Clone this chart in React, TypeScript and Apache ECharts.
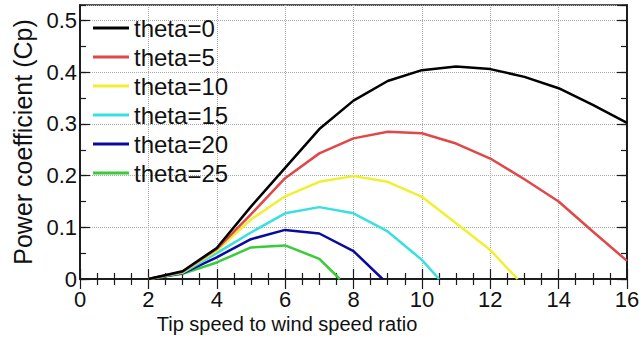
import React, { useEffect, useRef } from "react";
import * as echarts from "echarts";

const seriesNames = ["theta=0", "theta=5", "theta=10", "theta=15", "theta=20", "theta=25"];
const seriesColors = ["#000000", "#e04848", "#f0f030", "#38e0e0", "#0a0aa0", "#38cc38"];

const theta0X = [2, 3, 4, 5, 6, 7, 8, 9, 10, 11, 12, 13, 14, 15, 16];
const theta0Y = [0, 0.015, 0.06, 0.14, 0.215, 0.29, 0.345, 0.383, 0.404, 0.411, 0.406, 0.391, 0.369, 0.337, 0.302];
const theta5X = [2, 3, 4, 5, 6, 7, 8, 9, 10, 11, 12, 13, 14, 15, 16];
const theta5Y = [0, 0.014, 0.058, 0.125, 0.195, 0.243, 0.272, 0.285, 0.282, 0.262, 0.233, 0.193, 0.15, 0.092, 0.035];
const theta10X = [2, 3, 4, 5, 6, 7, 8, 9, 10, 11, 12, 12.8];
const theta10Y = [0, 0.013, 0.055, 0.115, 0.16, 0.188, 0.199, 0.188, 0.159, 0.108, 0.056, 0];
const theta15X = [2, 3, 4, 5, 6, 7, 8, 9, 10, 10.5];
const theta15Y = [0, 0.012, 0.05, 0.09, 0.127, 0.139, 0.127, 0.092, 0.037, 0];
const theta20X = [2, 3, 4, 5, 6, 7, 8, 8.85];
const theta20Y = [0, 0.011, 0.042, 0.077, 0.095, 0.088, 0.054, 0];
const theta25X = [2, 3, 4, 5, 6, 7, 7.6];
const theta25Y = [0, 0.01, 0.032, 0.061, 0.065, 0.039, 0];

const allX = [theta0X, theta5X, theta10X, theta15X, theta20X, theta25X];
const allY = [theta0Y, theta5Y, theta10Y, theta15Y, theta20Y, theta25Y];

const xTitle = "Tip speed to wind speed ratio";
const yTitle = "Power coefficient (Cp)";

const FONT = "'Liberation Sans', Arial, sans-serif";
const AXIS_COLOR = "#1a1a1a";
const TEXT_COLOR = "#111111";

export default function App() {
  const ref = useRef<HTMLDivElement>(null);

  useEffect(() => {
    if (!ref.current) return;
    const chart = echarts.init(ref.current, null, { renderer: "svg" });

    const axisLine = { show: true, lineStyle: { color: AXIS_COLOR, width: 1.5 } };
    const tickStyle = { color: AXIS_COLOR, width: 1.2 };

    const xBase = {
      type: "value",
      min: 0,
      max: 16,
      interval: 2,
      axisLine,
      axisTick: { show: true, inside: true, length: 10, lineStyle: tickStyle },
      minorTick: { show: true, splitNumber: 4, length: 6, lineStyle: tickStyle },
    };

    const yBase = {
      type: "value",
      min: 0,
      max: 0.53,
      axisLine,
    };

    const option = {
      animation: false,
      backgroundColor: "#ffffff",
      grid: {
        left: 80,
        right: 17,
        top: 5,
        bottom: 61,
        show: true,
        borderColor: AXIS_COLOR,
        borderWidth: 1.5,
      },
      legend: {
        data: seriesNames,
        left: 93,
        top: 16,
        orient: "vertical",
        padding: 0,
        itemGap: 5,
        itemWidth: 36,
        itemHeight: 3,
        icon: "rect",
        backgroundColor: "rgba(255,255,255,0)",
        textStyle: { fontSize: 24, color: TEXT_COLOR, fontFamily: FONT, lineHeight: 24 },
      },
      title: {
        text: xTitle,
        left: 287,
        top: 314,
        textAlign: "center",
        padding: 0,
        textStyle: { fontSize: 20, lineHeight: 20, fontWeight: "normal", color: TEXT_COLOR, fontFamily: FONT },
      },
      xAxis: [
        {
          ...xBase,
          position: "bottom",
          splitLine: { show: true, lineStyle: { type: "dotted", color: "#aaaaaa", width: 1 } },
          axisLabel: { show: true, fontSize: 22, color: TEXT_COLOR, fontFamily: FONT, margin: 9 },
        },
        {
          ...xBase,
          position: "top",
          splitLine: { show: false },
          axisLabel: { show: false },
        },
      ],
      yAxis: [
        {
          ...yBase,
          position: "left",
          interval: 0.1,
          axisTick: { show: true, inside: true, length: 10, lineStyle: tickStyle },
          splitLine: { show: true, lineStyle: { type: "dotted", color: "#aaaaaa", width: 1 } },
          axisLabel: {
            show: true,
            fontSize: 22,
            color: TEXT_COLOR,
            fontFamily: FONT,
            margin: 3,
            showMaxLabel: false,
            formatter: (v: number) => (v === 0 ? "0" : v.toFixed(1)),
          },
          name: yTitle,
          nameLocation: "middle",
          nameGap: 45,
          nameTextStyle: { fontSize: 25, color: TEXT_COLOR, fontFamily: FONT },
        },
        {
          ...yBase,
          position: "left",
          interval: 0.05,
          axisTick: { show: true, inside: true, length: 6, lineStyle: tickStyle },
          splitLine: { show: false },
          axisLabel: { show: false },
        },
        {
          ...yBase,
          position: "right",
          interval: 0.1,
          axisTick: { show: true, inside: true, length: 10, lineStyle: tickStyle },
          splitLine: { show: false },
          axisLabel: { show: false },
        },
        {
          ...yBase,
          position: "right",
          interval: 0.05,
          axisTick: { show: true, inside: true, length: 6, lineStyle: tickStyle },
          splitLine: { show: false },
          axisLabel: { show: false },
        },
      ],
      series: seriesNames.map((name, i) => ({
        name,
        type: "line",
        xAxisIndex: 0,
        yAxisIndex: 0,
        symbol: "none",
        smooth: false,
        z: 10 - i,
        lineStyle: { color: seriesColors[i], width: 2.5 },
        itemStyle: { color: seriesColors[i] },
        data: allX[i].map((x, j) => [x, allY[i][j]]),
      })),
    };

    chart.setOption(option as any);
    return () => chart.dispose();
  }, []);

  return <div ref={ref} style={{ width: 644, height: 340, position: "absolute", left: 0, top: 0 }} />;
}
